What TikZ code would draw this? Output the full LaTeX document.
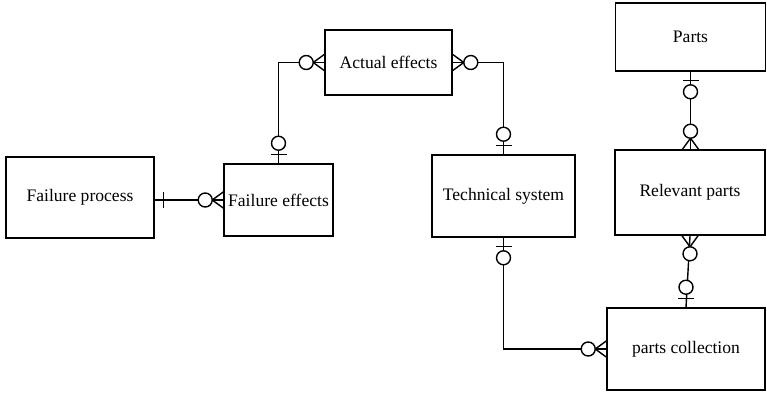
\documentclass[tikz,border=0pt]{standalone}
\usepackage{fontspec}
\setmainfont{Liberation Serif}

\tikzset{
    entity/.style={draw, line width=0.9pt, rectangle, inner sep=2pt, font=\fontsize{10}{12}\selectfont},
    link/.style={line width=0.8pt},
    justone/.pic={\draw [line width=0.8pt] (-9,-8)--(-9,8);},
    zeroone/.pic={
        \draw [line width=0.8pt] (-9,-8)--(-9,8);
        \draw [line width=0.8pt, fill=white] (-20,0) circle [radius=7];},
    zeromany/.pic={
        \draw [line width=0.8pt] (0,8)--(-11,0)--(0,-8);
        \draw [line width=0.8pt, fill=white] (-18,0) circle [radius=7];}
}

\begin{document}
\begin{tikzpicture}[x=0.02cm, y=0.02cm]

    \useasboundingbox (0,0) rectangle (767,-393);

    % entities
    \node [entity, minimum width=2.96cm, minimum height=1.62cm] (fproc) at (80,-197.5) {Failure process};
    \node [entity, minimum width=2.18cm, minimum height=1.44cm] (feff) at (278.5,-200) {Failure effects};
    \node [entity, minimum width=2.54cm, minimum height=1.3cm] (act) at (388.5,-62.5) {Actual effects};
    \node [entity, minimum width=2.86cm, minimum height=1.64cm] (tech) at (503.5,-196) {Technical system};
    \node [entity, minimum width=3.0cm, minimum height=1.36cm] (parts) at (690.5,-37) {Parts};
    \node [entity, minimum width=3.0cm, minimum height=1.7cm] (relparts) at (690,-192.5) {Relevant parts};
    \node [entity, minimum width=3.16cm, minimum height=1.64cm] (coll) at (686,-349) {parts collection};

    % Failure process -- Failure effects
    \draw [link] (feff.west -| fproc.east) -- (feff.west);
    \pic [rotate=180] at (feff.west -| fproc.east) {justone};
    \pic at (feff.west) {zeromany};

    % Failure effects -- Actual effects
    \draw [link] (feff.north) |- (act.west);
    \pic [rotate=-90] at (feff.north) {zeroone};
    \pic at (act.west) {zeromany};

    % Actual effects -- Technical system
    \draw [link] (act.east) -| (tech.north);
    \pic [rotate=180] at (act.east) {zeromany};
    \pic [rotate=-90] at (tech.north) {zeroone};

    % Parts -- Relevant parts
    \draw [link] (parts.south) -- (parts.south |- relparts.north);
    \pic [rotate=90] at (parts.south) {zeroone};
    \pic [rotate=-90] at (parts.south |- relparts.north) {zeromany};

    % Relevant parts -- parts collection
    \draw [link] (relparts.south) -- (coll.north);
    \pic [rotate=90] at (relparts.south) {zeromany};
    \pic [rotate=-90] at (coll.north) {zeroone};

    % Technical system -- parts collection
    \draw [link] (tech.south) |- (coll.west);
    \pic [rotate=90] at (tech.south) {zeroone};
    \pic at (coll.west) {zeromany};

\end{tikzpicture}
\end{document}
